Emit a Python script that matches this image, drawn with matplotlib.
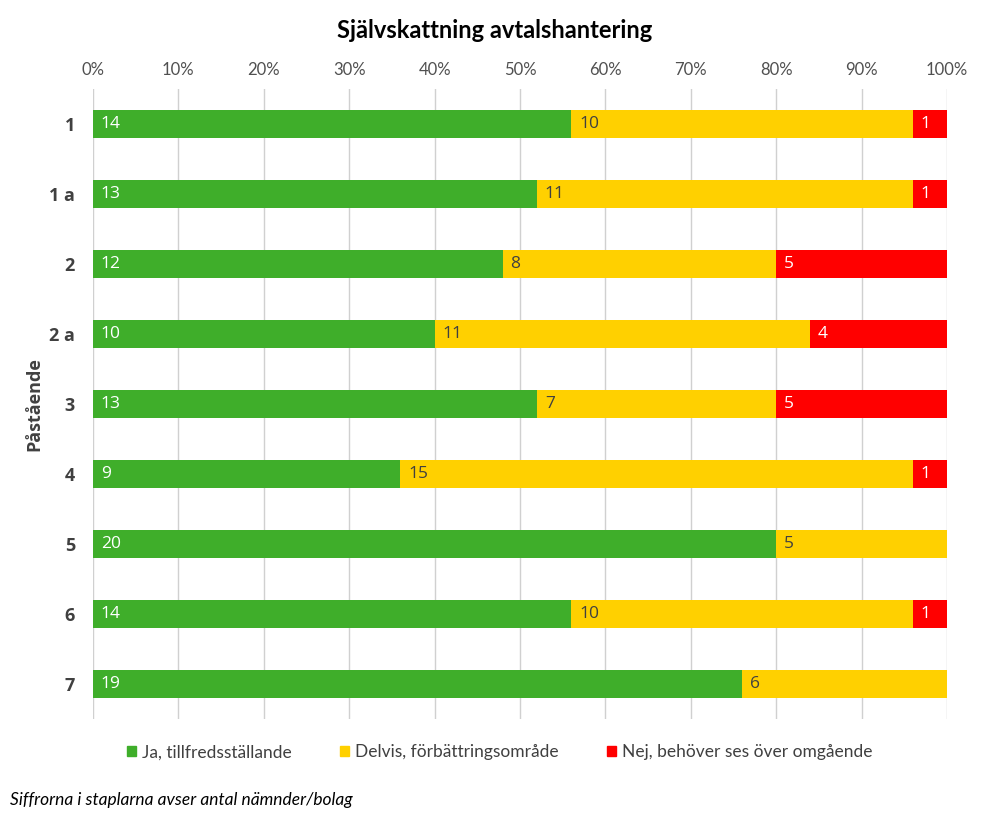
import numpy as np
import matplotlib.pyplot as plt
from matplotlib.patches import Patch

categories = ["1", "1 a", "2", "2 a", "3", "4", "5", "6", "7"]
ja = [14, 13, 12, 10, 13, 9, 20, 14, 19]
delvis = [10, 11, 8, 11, 7, 15, 5, 10, 6]
nej = [1, 1, 5, 4, 5, 1, 0, 1, 0]
series_names = ["Ja, tillfredsställande", "Delvis, förbättringsområde",
                "Nej, behöver ses över omgående"]
colors = ["#3FAE2A", "#FFD000", "#FF0000"]
text_colors = ["white", "#404040", "white"]

counts = np.array([ja, delvis, nej], dtype=float)
totals = counts.sum(axis=0)
shares = counts / totals

fig = plt.figure(figsize=(9.89, 8.16), dpi=100)
ax = fig.add_axes([0.094, 0.119, 0.8636, 0.772])

y = np.arange(len(categories))
left = np.zeros(len(categories))
for k in range(3):
    ax.barh(y, shares[k], left=left, height=0.4, color=colors[k], zorder=2)
    for i in range(len(categories)):
        if counts[k, i] > 0:
            ax.text(left[i] + 0.009, y[i], f"{int(counts[k, i])}", va="center", ha="left",
                    color=text_colors[k], fontsize=12.5, family="Open Sans", zorder=3)
    left += shares[k]

ax.set_xlim(0, 1)
ax.set_ylim(len(categories) - 0.5, -0.5)
ax.set_xticks(np.arange(0, 1.01, 0.1))
ax.set_xticklabels([f"{int(round(v * 100))}%" for v in np.arange(0, 1.01, 0.1)],
                   family="Lato", fontsize=12, color="#505050")
ax.xaxis.tick_top()
ax.tick_params(axis="x", length=0, pad=8)
ax.set_yticks(y)
ax.set_yticklabels(categories, family="Open Sans", fontsize=13, fontweight="bold", color="#404040")
ax.tick_params(axis="y", length=0, pad=13)
ax.grid(axis="x", color="#D0D0D0", linewidth=1, zorder=0)
for s in ax.spines.values():
    s.set_visible(False)

ax.set_ylabel("Påstående", family="Open Sans", fontsize=13, fontweight="bold", color="#404040", labelpad=4)

fig.text(0.5, 0.963, "Självskattning avtalshantering", ha="center", va="center",
         fontsize=17, fontweight="bold", family="Lato", color="black")

handles = [Patch(color=c) for c in colors]
fig.legend(handles, series_names, loc="center", bbox_to_anchor=(0.505, 0.078), ncol=3,
           frameon=False, prop={"family": "Lato", "size": 12.5}, labelcolor="#404040",
           handlelength=0.55, handleheight=0.55, handletextpad=0.3, columnspacing=2.8)

fig.text(0.01, 0.019, "Siffrorna i staplarna avser antal nämnder/bolag", ha="left", va="center",
         fontsize=12.5, style="italic", family="Lato", color="black")

plt.savefig("out.png", dpi=100)
